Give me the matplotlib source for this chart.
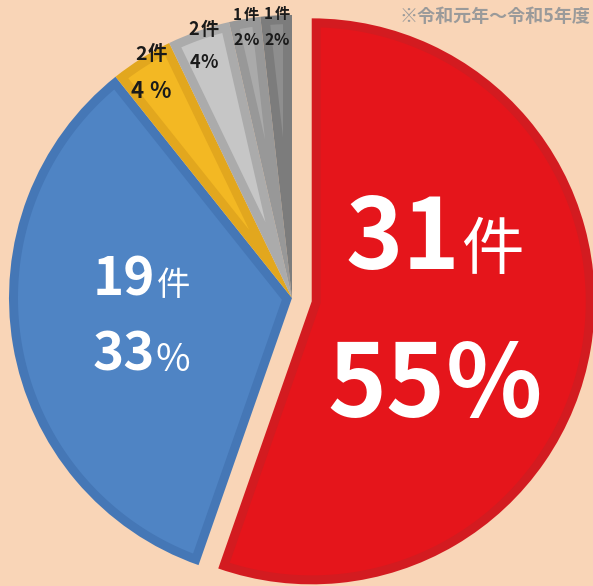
import numpy as np
import matplotlib.pyplot as plt
from matplotlib.patches import Polygon
from matplotlib.offsetbox import TextArea, HPacker, VPacker, AnnotationBbox

plt.rcParams['font.family'] = ['Noto Sans CJK JP', 'DejaVu Sans']

# data
counts = [31, 19, 2, 2, 1, 1]
pct_nums = ['55', '33', '4 ', '4', '2', '2']
unit = '件'
note = '※令和元年～令和5年度'

# style
bg = '#F9D5B7'
face_colors = ['#E5151B', '#4F84C4', '#F3B823', '#C6C6C6', '#AAAAAA', '#8E8E8E']
edge_colors = ['#D31B20', '#4577B6', '#E2A71E', '#ABABAB', '#989898', '#7C7C7C']
text_colors = ['white', 'white', '#1A1A1A', '#1A1A1A', '#1A1A1A', '#1A1A1A']
num_size = [70, 38, 14, 13, 11, 11]
unit_size = [45, 24, 14, 13, 11, 11]
pct_size = [72, 38, 16, 13, 11.5, 11.5]
sign_size = [72, 27, 16, 13, 11.5, 11.5]
unit_bold = [False, False, True, True, True, True]
sign_bold = [True, False, True, True, True, True]
line_sep = [33, 16, 11, 10, 7, 7]
label_r = [0.44, 0.54, 0.935, 0.945, 0.97, 0.96]
label_dy = [7, 6, 0, 0, 0, 0]  # extra upward nudge, px
band = 9  # width of the darker rim, px


def u(a):
    a = np.deg2rad(a)
    return np.array([np.cos(a), np.sin(a)])


def inset_wedge(c, r, a1, a2, d):
    # polygon of the wedge shrunk by d from every edge
    c = np.asarray(c, float)
    span = a2 - a1
    t = np.sqrt((r - d) ** 2 - d ** 2)
    dl = np.rad2deg(np.arctan2(d, t))
    arc = [c + (r - d) * u(a) for a in np.linspace(a1 + dl, a2 - dl, 200)]
    if span < 180:
        apex = c + d / np.sin(np.deg2rad(span / 2)) * u((a1 + a2) / 2)
        return np.array([apex] + arc)
    corner = [c + d * u(a) for a in np.linspace(a2 - 90, a1 + 90, 20)]
    return np.array(arc + corner)


W, H = 593, 586
fig = plt.figure(figsize=(W / 100, H / 100), dpi=100, facecolor=bg)
ax = fig.add_axes([0, 0, 1, 1])
ax.set_facecolor(bg)

R = 283
center = (292, H - 298)
wedges, _ = ax.pie(counts, startangle=90, counterclock=False, radius=R,
                   center=center, explode=[20, 0, 0, 0, 0, 0],
                   colors=edge_colors, frame=True,
                   wedgeprops=dict(linewidth=0))
ax.set_xlim(0, W)
ax.set_ylim(0, H)
ax.set_aspect('equal')
ax.axis('off')

# lighter face inside the darker rim
for w, fc in zip(wedges, face_colors):
    pts = inset_wedge(w.center, w.r, w.theta1, w.theta2, band)
    ax.add_patch(Polygon(pts, closed=True, facecolor=fc, edgecolor='none'))

for i, w in enumerate(wedges):
    th = np.deg2rad((w.theta1 + w.theta2) / 2)
    cx, cy = w.center
    x = cx + label_r[i] * R * np.cos(th)
    y = cy + label_r[i] * R * np.sin(th) + label_dy[i]
    c = text_colors[i]
    line1 = HPacker(children=[
        TextArea(str(counts[i]), textprops=dict(color=c, fontsize=num_size[i], weight='bold')),
        TextArea(unit, textprops=dict(color=c, fontsize=unit_size[i],
                                      weight='bold' if unit_bold[i] else 'normal')),
    ], align='baseline', pad=0, sep=1)
    line2 = HPacker(children=[
        TextArea(pct_nums[i], textprops=dict(color=c, fontsize=pct_size[i], weight='bold')),
        TextArea('%', textprops=dict(color=c, fontsize=sign_size[i],
                                     weight='bold' if sign_bold[i] else 'normal')),
    ], align='baseline', pad=0, sep=0)
    box = VPacker(children=[line1, line2], align='center', pad=0, sep=line_sep[i])
    ab = AnnotationBbox(box, (x, y), frameon=False, box_alignment=(0.5, 0.5))
    ax.add_artist(ab)

ax.text(590, H - 17, note, ha='right', va='center', fontsize=13,
        color='#9A9A9A', weight='bold')

fig.savefig('out.png', dpi=100, facecolor=bg)
